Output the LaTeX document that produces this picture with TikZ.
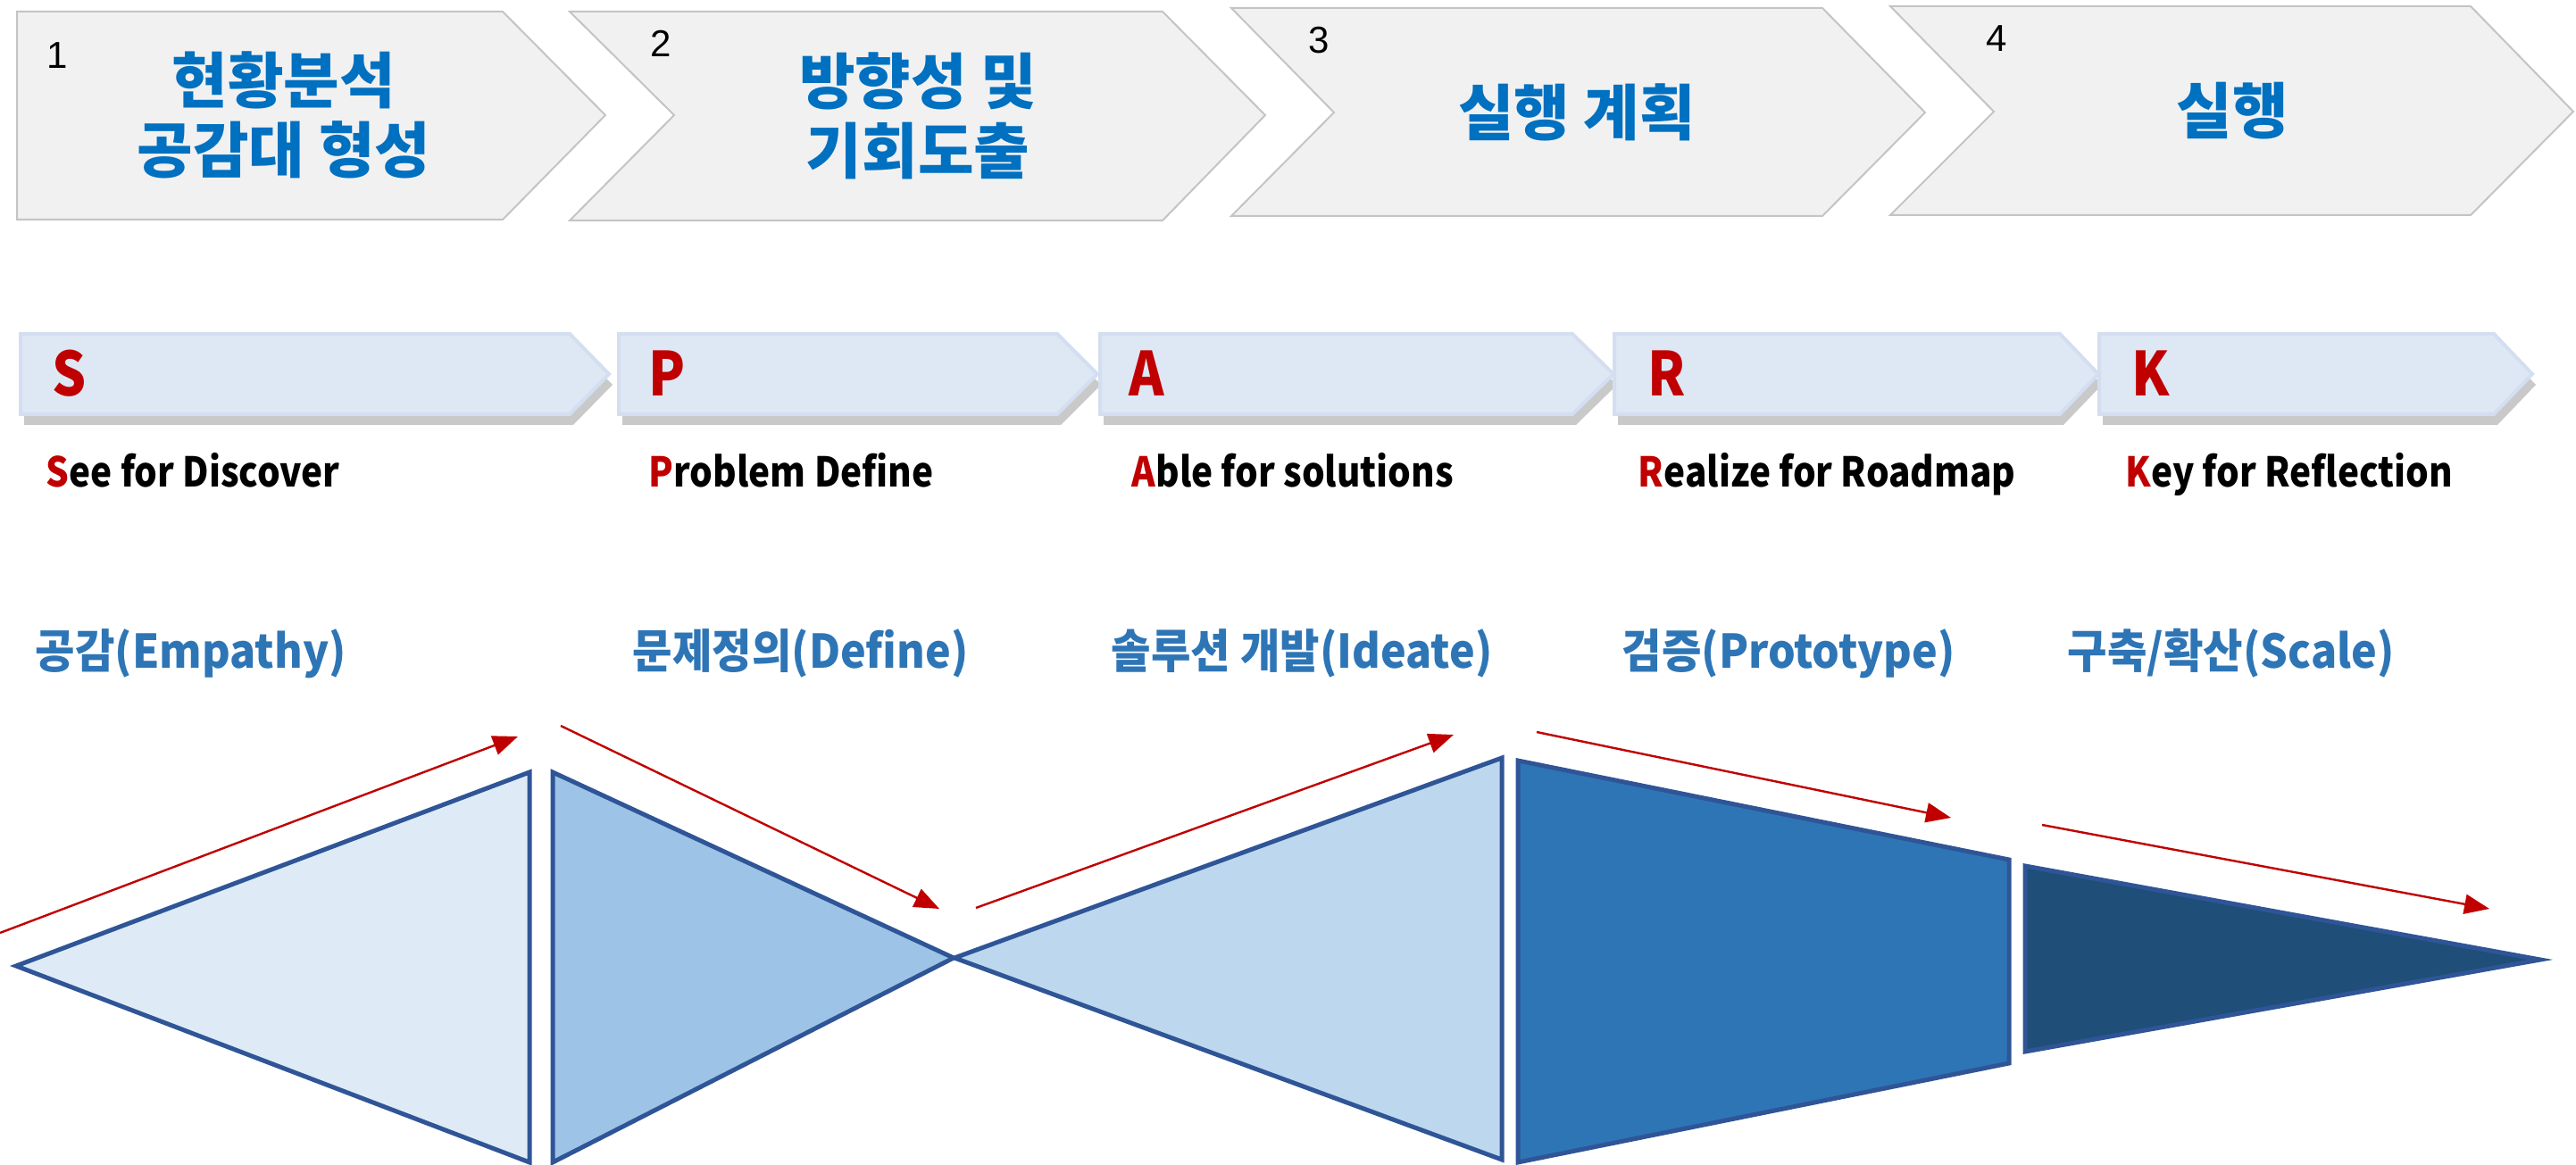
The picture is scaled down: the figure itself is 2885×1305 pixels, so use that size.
\documentclass[tikz,border=0pt]{standalone}
\usepackage{fontspec}
\setmainfont{Noto Sans CJK KR}
\newfontfamily\condfont{Noto Sans CJK KR}[FakeStretch=0.88]
\newfontfamily\phasefont{Noto Sans CJK KR}[FakeStretch=0.93]
\newfontfamily\numfont{Liberation Sans}
\usetikzlibrary{shadows,arrows.meta}
\definecolor{topgray}{HTML}{F1F1F1}
\definecolor{topborder}{HTML}{C4C4C4}
\definecolor{titleblue}{HTML}{0070C0}
\definecolor{sparkfill}{HTML}{DEE8F5}
\definecolor{sparkborder}{HTML}{D3DEF0}
\definecolor{sred}{HTML}{C00000}
\definecolor{phaseblue}{HTML}{2E75B6}
\definecolor{fillA}{HTML}{DEEBF7}
\definecolor{fillB}{HTML}{9DC3E6}
\definecolor{fillC}{HTML}{BDD7EE}
\definecolor{fillD}{HTML}{2E75B6}
\definecolor{fillE}{HTML}{1F4E79}
\definecolor{shapeborder}{HTML}{2F5597}
\tikzset{
  topchev/.style={fill=topgray, draw=topborder, line width=0.5pt},
  sparkchev/.style={fill=sparkfill, draw=sparkborder, line width=1pt,
    drop shadow={shadow xshift=1pt, shadow yshift=-3pt, opacity=0.3, fill=black!70}},
  titletext/.style={text=titleblue, align=center, inner sep=0pt,
    font=\fontsize{17}{19.5}\selectfont\bfseries},
  numtext/.style={anchor=base, inner sep=0pt, font=\numfont\fontsize{10.5}{12}\selectfont},
  sparkletter/.style={anchor=base west, inner sep=0pt, text=sred,
    font=\condfont\fontsize{17}{19}\selectfont\bfseries},
  labtext/.style={anchor=base west, inner sep=0pt,
    font=\condfont\fontsize{11.5}{14}\selectfont\bfseries},
  phasetext/.style={anchor=base west, inner sep=0pt, text=phaseblue,
    font=\phasefont\fontsize{13}{15}\selectfont\bfseries},
  shapeD/.style={draw=shapeborder, line width=1.25pt, line join=miter},
  redarrow/.style={draw=sred, line width=0.6pt, -{Triangle[length=7pt,width=5.5pt]}, sred}
}
\begin{document}
\begin{tikzpicture}[x=0.25pt, y=-0.25pt]
\useasboundingbox (0,0) rectangle (2885,1305);
% top chevrons
\draw[topchev] (19,13) -- (563,13) -- (678,129) -- (563,246) -- (19,246) -- cycle;
\draw[topchev] (638,13) -- (1302,13) -- (1417,129) -- (1302,247) -- (638,247) -- (755,129) -- cycle;
\draw[topchev] (1379,9) -- (2041,9) -- (2156,126) -- (2041,242) -- (1379,242) -- (1494,126) -- cycle;
\draw[topchev] (2117,7) -- (2767,7) -- (2882,125) -- (2767,241) -- (2117,241) -- (2233,125) -- cycle;
\node[numtext] (n1) at (64,77) {1};
\node[numtext] (n2) at (740,64) {2};
\node[numtext] (n3) at (1477,60) {3};
\node[numtext] (n4) at (2236,58) {4};
\node[titletext] (t1) at (318,129) {현황분석\\공감대 형성};
\node[titletext] (t2) at (1028,130) {방향성 및\\기회도출};
\node[titletext] (t3) at (1766,126) {실행 계획};
\node[titletext] (t4) at (2500,124) {실행};
% SPARK chevrons
\draw[sparkchev] (23,374) -- (638,374) -- (682,419) -- (638,464) -- (23,464) -- cycle;
\draw[sparkchev] (693,374) -- (1184,374) -- (1229,419) -- (1184,464) -- (693,464) -- cycle;
\draw[sparkchev] (1232,374) -- (1761,374) -- (1807,419) -- (1761,464) -- (1232,464) -- cycle;
\draw[sparkchev] (1808,374) -- (2307,374) -- (2350,419) -- (2307,464) -- (1808,464) -- cycle;
\draw[sparkchev] (2351,374) -- (2793,374) -- (2836,419) -- (2793,464) -- (2351,464) -- cycle;
\node[sparkletter] (ls) at (58,444) {S};
\node[sparkletter] (lp) at (726,444) {P};
\node[sparkletter] (la) at (1264,444) {A};
\node[sparkletter] (lr) at (1845,444) {R};
\node[sparkletter] (lk) at (2387,444) {K};
\node[labtext] (ds) at (51,545) {\textcolor{sred}{S}ee for Discover};
\node[labtext] (dp) at (726,545) {\textcolor{sred}{P}roblem Define};
\node[labtext] (da) at (1267,545) {\textcolor{sred}{A}ble for solutions};
\node[labtext] (dr) at (1834,545) {\textcolor{sred}{R}ealize for Roadmap};
\node[labtext] (dk) at (2380,545) {\textcolor{sred}{K}ey for Reflection};
% phase labels
\node[phasetext] (p1) at (39,748) {공감(Empathy)};
\node[phasetext] (p2) at (708,748) {문제정의(Define)};
\node[phasetext] (p3) at (1244,748) {솔루션 개발(Ideate)};
\node[phasetext] (p4) at (1816,748) {검증(Prototype)};
\node[phasetext] (p5) at (2315,748) {구축/확산(Scale)};
% bottom shapes
\draw[shapeD, fill=fillA] (18,1082) -- (593,865) -- (593,1302) -- cycle;
\draw[shapeD, fill=fillB] (619,865) -- (1068,1073) -- (619,1302) -- cycle;
\draw[shapeD, fill=fillC] (1069,1073) -- (1682,849) -- (1682,1299) -- cycle;
\draw[shapeD, fill=fillD] (1700,852) -- (2250,963) -- (2250,1191) -- (1700,1302) -- cycle;
\draw[shapeD, fill=fillE] (2268,970) -- (2845,1075) -- (2268,1178) -- cycle;
% red arrows
\coordinate (a1s) at (0,1045);   \coordinate (a1e) at (580,825);
\coordinate (a2s) at (628,813);  \coordinate (a2e) at (1052,1018);
\coordinate (a3s) at (1093,1017);\coordinate (a3e) at (1628,823);
\coordinate (a4s) at (1721,820); \coordinate (a4e) at (2185,916);
\coordinate (a5s) at (2287,924); \coordinate (a5e) at (2788,1018);
\draw[redarrow] (a1s) -- (a1e);
\draw[redarrow] (a2s) -- (a2e);
\draw[redarrow] (a3s) -- (a3e);
\draw[redarrow] (a4s) -- (a4e);
\draw[redarrow] (a5s) -- (a5e);
\end{tikzpicture}
\end{document}
